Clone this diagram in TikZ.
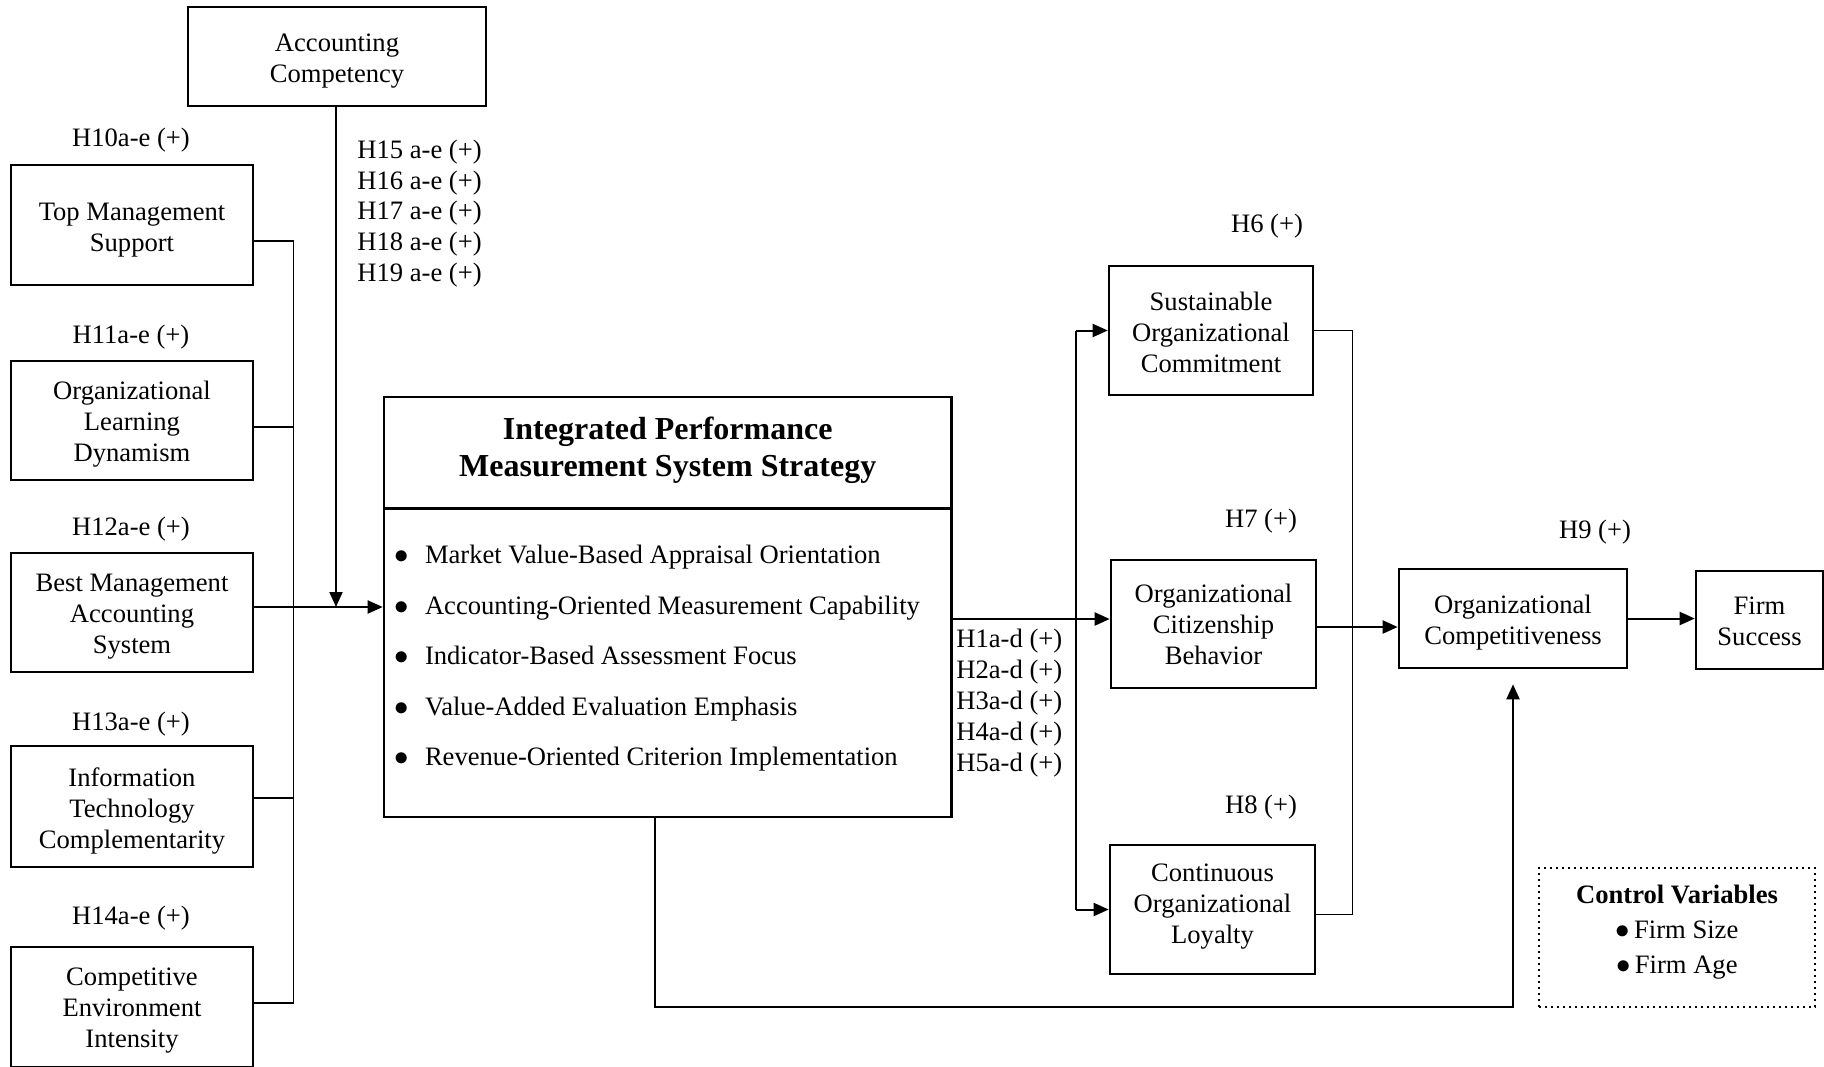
\documentclass[tikz,border=0pt]{standalone}
\usepackage{fontspec}
\setmainfont{Liberation Serif}
\usetikzlibrary{arrows.meta,calc}
\begin{document}
\begin{tikzpicture}[x=0.5pt,y=-0.5pt,
  font=\fontsize{13.3}{15.5}\selectfont,
  box/.style={draw, line width=1.3pt, inner sep=0pt},
  txt/.style={inner sep=0pt, align=center},
  hyp/.style={inner sep=0pt, align=left},
  wire/.style={line width=0.8pt},
  arr/.style={line width=1pt, -{Triangle[length=7.5pt,width=6.5pt]}},
]
\useasboundingbox (0,0) rectangle (1824,1066);
\fill[white] (0,0) rectangle (1824,1066);
\clip (0,0) rectangle (1824,1066);

% antecedent constructs: frames, then their captions
\node[box, minimum width=149pt, minimum height=49.5pt] (ac)   at (337,56.5) {};
\node[box, minimum width=121pt, minimum height=60pt]   (tms)  at (132,225) {};
\node[box, minimum width=121pt, minimum height=59.5pt] (old)  at (132,420.5) {};
\node[box, minimum width=121pt, minimum height=59.5pt] (bmas) at (132,612.5) {};
\node[box, minimum width=121pt, minimum height=60.5pt] (itc)  at (132,806.5) {};
\node[box, minimum width=121pt, minimum height=60pt]   (cei)  at (132,1007) {};
\node[txt] (ac-t)   at (337,61)    {Accounting\\Competency};
\node[txt] (tms-t)  at (132,229.8) {Top Management\\Support};
\node[txt] (old-t)  at (132,424.6) {Organizational\\Learning\\Dynamism};
\node[txt] (bmas-t) at (132,616.5) {Best Management\\Accounting\\System};
\node[txt] (itc-t)  at (132,810.8) {Information\\Technology\\Complementarity};
\node[txt] (cei-t)  at (132,1010.9) {Competitive\\Environment\\Intensity};

% hypothesis labels on the left
\node[hyp] (h10) at (131,140.3) {H10a-e (+)};
\node[hyp] (h11) at (131,336.9) {H11a-e (+)};
\node[hyp] (h12) at (131,528.8) {H12a-e (+)};
\node[hyp] (h13) at (131,724.2) {H13a-e (+)};
\node[hyp] (h14) at (131,918.5) {H14a-e (+)};
\node[hyp, anchor=west, font=\fontsize{13.3}{15.35}\selectfont] (h15) at (357,213.5)
  {H15 a-e (+)\\H16 a-e (+)\\H17 a-e (+)\\H18 a-e (+)\\H19 a-e (+)};

% central construct
\node[box, minimum width=283.75pt, minimum height=210pt] (ipm) at (667.75,607) {};
\node[txt, font=\fontsize{16}{18.6}\selectfont\bfseries] (ipm-t) at (667.75,450)
  {Integrated Performance\\Measurement System Strategy};
\draw[line width=1.3pt] ($(ipm.north west)+(0,112.5)$) -- ($(ipm.north east)+(0,112.5)$);
\node[hyp, anchor=west, font=\fontsize{13.3}{25.25}\selectfont] (lst) at (394.4,658.4)
  {\makebox[15.1pt][l]{$\bullet$}Market Value-Based Appraisal Orientation\\
   \makebox[15.1pt][l]{$\bullet$}Accounting-Oriented Measurement Capability\\
   \makebox[15.1pt][l]{$\bullet$}Indicator-Based Assessment Focus\\
   \makebox[15.1pt][l]{$\bullet$}Value-Added Evaluation Emphasis\\
   \makebox[15.1pt][l]{$\bullet$}Revenue-Oriented Criterion Implementation};
\node[hyp, anchor=west, font=\fontsize{13.3}{15.45}\selectfont] (h1) at (956,703.3)
  {H1a-d (+)\\H2a-d (+)\\H3a-d (+)\\H4a-d (+)\\H5a-d (+)};

% mediators
\node[box, minimum width=102pt, minimum height=64.5pt]   (soc) at (1211,330.5) {};
\node[box, minimum width=102.5pt, minimum height=64pt]   (ocb) at (1213.5,624) {};
\node[box, minimum width=102.5pt, minimum height=64.5pt] (col) at (1212.5,909.5) {};
\node[txt] (soc-t) at (1211,332.7)    {Sustainable\\Organizational\\Commitment};
\node[txt] (ocb-t) at (1213.5,624.7) {Organizational\\Citizenship\\Behavior};
\node[txt] (col-t) at (1212.5,906.2) {Continuous\\Organizational\\Loyalty};
\node[hyp] (h6) at (1267,226.4) {H6 (+)};
\node[hyp] (h7) at (1261,520.7) {H7 (+)};
\node[hyp] (h8) at (1261,806.8) {H8 (+)};

% outcomes
\node[box, minimum width=114pt, minimum height=49.5pt] (oc) at (1513,618.5) {};
\node[box, minimum width=63.5pt, minimum height=49pt]  (fs) at (1759.5,620) {};
\node[txt] (oc-t) at (1513,623)    {Organizational\\Competitiveness};
\node[txt] (fs-t) at (1759.5,621.8) {Firm\\Success};
\node[hyp] (h9) at (1595,532.3) {H9 (+)};

% control variables
\node[draw, dotted, line width=1pt, minimum width=138pt, minimum height=69.5pt] (ctrl) at (1677,937.5) {};
\node[txt, font=\fontsize{13.3}{17.5}\selectfont] (ctrl-t) at (1677,932.5)
  {\textbf{Control Variables}\\$\bullet$\hspace{2pt}Firm Size\\$\bullet$\hspace{2pt}Firm Age};

% antecedents collected on a bus into the central construct
\draw[wire] ($(tms.east)+(0,16)$) -- ++(39,0) |- ($(cei.east)+(0,-4)$);
\draw[wire] ($(old.east)+(0,6.5)$) -- ++(39,0);
\draw[wire] ($(itc.east)+(0,-8.5)$) -- ++(39,0);
\draw[arr] (bmas.east |- ipm.west) -- (ipm.west);
\draw[arr] ($(ac.south)+(-1,0)$) -- ($(ac.south |- ipm.west)+(-1,0)$);

% central construct to mediators
\coordinate (split) at (1076,619);
\draw[line width=1pt] ($(ipm.east)+(0,12)$) -- (split);
\draw[arr] (split) -- (split -| ocb.west);
\draw[line width=1pt] (split |- soc.west) -- (split |- col.west);
\draw[arr] (split |- soc.west) -- (soc.west);
\draw[arr] (split |- col.west) -- (col.west);

% mediators to competitiveness
\draw[wire] (soc.east) -- ++(38,0) |- ($(col.east)+(0,5)$);
\draw[arr] ($(ocb.east)+(0,3)$) -- ($(oc.west)+(0,8.5)$);
\draw[arr] (oc.east) -- (fs.west |- oc.east);

% direct path from the central construct
\draw[arr] ($(ipm.south)+(-13,0)$) -- ++(0,189) -| ($(oc.south)+(0,15)$);
\end{tikzpicture}
\end{document}
